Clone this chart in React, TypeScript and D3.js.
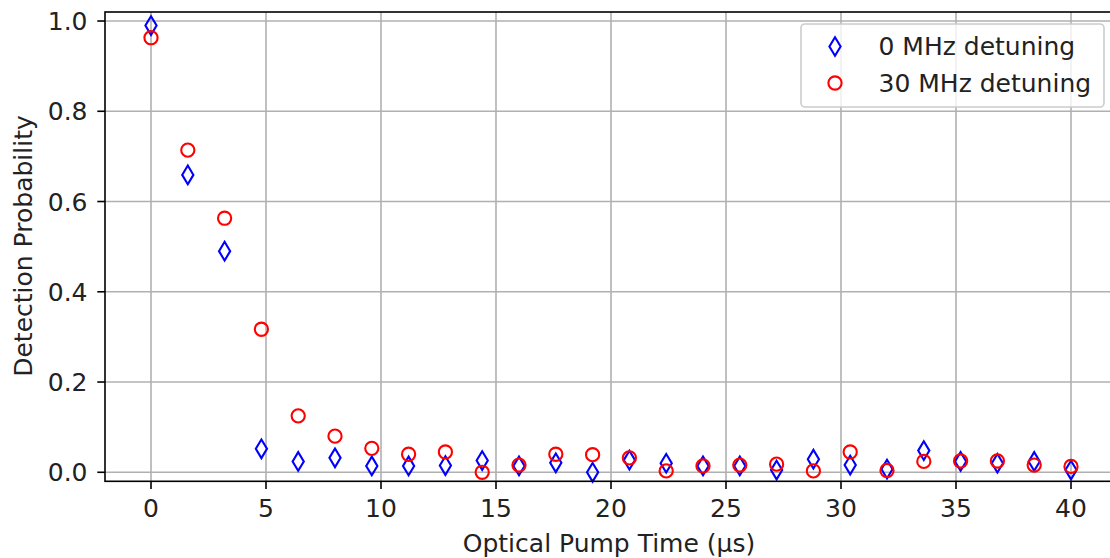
import React, { useEffect, useRef } from "react";
import * as d3 from "d3";

const pumpTimes = [0, 1.6, 3.2, 4.8, 6.4, 8.0, 9.6, 11.2, 12.8, 14.4, 16.0, 17.6, 19.2, 20.8, 22.4, 24.0, 25.6, 27.2, 28.8, 30.4, 32.0, 33.6, 35.2, 36.8, 38.4, 40.0];
const detuning0 = [0.99, 0.659, 0.49, 0.052, 0.024, 0.032, 0.014, 0.014, 0.015, 0.026, 0.014, 0.021, 0.0, 0.027, 0.02, 0.014, 0.014, 0.005, 0.029, 0.016, 0.007, 0.048, 0.024, 0.02, 0.024, 0.005];
const detuning30 = [0.963, 0.714, 0.563, 0.317, 0.125, 0.08, 0.053, 0.04, 0.045, 0.0, 0.016, 0.04, 0.039, 0.032, 0.003, 0.014, 0.016, 0.018, 0.003, 0.045, 0.004, 0.024, 0.025, 0.025, 0.016, 0.013];
const xTicks = [0, 5, 10, 15, 20, 25, 30, 35, 40];
const yTicks = [0, 0.2, 0.4, 0.6, 0.8, 1.0];
const seriesNames = ["0 MHz detuning", "30 MHz detuning"];

const FONT = "DejaVu Sans, sans-serif";
const FS = 25;

const App = () => {
  const ref = useRef(null);

  useEffect(() => {
    const width = 1110;
    const height = 558;
    const left = 105, top = 12, bottom = 481.3;
    const svg = d3.select(ref.current).attr("width", width).attr("height", height);
    svg.selectAll("*").remove();

    const x = d3.scaleLinear().domain([-2, 42]).range([left, left + 44 * 23]);
    const y = d3.scaleLinear().domain([-0.02, 1.02]).range([bottom, top]);
    const right = x(42);

    // grid
    const grid = svg.append("g").attr("stroke", "#b0b0b0").attr("stroke-width", 1.6);
    xTicks.forEach(t => grid.append("line").attr("x1", x(t)).attr("x2", x(t)).attr("y1", top).attr("y2", bottom));
    yTicks.forEach(t => grid.append("line").attr("x1", left).attr("x2", right).attr("y1", y(t)).attr("y2", y(t)));

    // markers
    const diamond = "M0,-9.33L5.6,0L0,9.33L-5.6,0Z";
    svg.append("g").selectAll("path")
      .data(pumpTimes.map((t, i) => [t, detuning0[i]]))
      .enter().append("path")
      .attr("d", diamond)
      .attr("transform", d => `translate(${x(d[0])},${y(d[1])})`)
      .attr("fill", "none").attr("stroke", "#0000ff").attr("stroke-width", 2.1);

    svg.append("g").selectAll("circle")
      .data(pumpTimes.map((t, i) => [t, detuning30[i]]))
      .enter().append("circle")
      .attr("cx", d => x(d[0])).attr("cy", d => y(d[1])).attr("r", 6.6)
      .attr("fill", "none").attr("stroke", "#ff0000").attr("stroke-width", 2.1);

    // spines
    svg.append("rect")
      .attr("x", left).attr("y", top).attr("width", right - left).attr("height", bottom - top)
      .attr("fill", "none").attr("stroke", "black").attr("stroke-width", 1.6);

    // ticks
    const xt = svg.append("g");
    xTicks.forEach(t => {
      xt.append("line").attr("x1", x(t)).attr("x2", x(t)).attr("y1", bottom).attr("y2", bottom + 7.7)
        .attr("stroke", "black").attr("stroke-width", 1.6);
      xt.append("text").attr("x", x(t)).attr("y", 517).attr("text-anchor", "middle")
        .attr("font-family", FONT).attr("font-size", FS).attr("fill", "#222").text(d3.format("d")(t));
    });
    const yt = svg.append("g");
    yTicks.forEach(t => {
      yt.append("line").attr("x1", left - 7.7).attr("x2", left).attr("y1", y(t)).attr("y2", y(t))
        .attr("stroke", "black").attr("stroke-width", 1.6);
      yt.append("text").attr("x", 87.5).attr("y", y(t) + 9).attr("text-anchor", "end")
        .attr("font-family", FONT).attr("font-size", FS).attr("fill", "#222").text(d3.format(".1f")(t));
    });

    // axis labels
    svg.append("text").attr("x", 609).attr("y", 552).attr("text-anchor", "middle")
      .attr("font-family", FONT).attr("font-size", FS).attr("fill", "#222").text("Optical Pump Time (µs)");
    svg.append("text").attr("transform", `translate(32,246) rotate(-90)`)
      .attr("text-anchor", "middle")
      .attr("font-family", FONT).attr("font-size", FS).attr("fill", "#222").text("Detection Probability");

    // legend
    const lg = svg.append("g");
    lg.append("rect").attr("x", 801).attr("y", 24).attr("width", 303).attr("height", 83).attr("rx", 4)
      .attr("fill", "white").attr("fill-opacity", 0.8).attr("stroke", "#cccccc").attr("stroke-width", 1.6);
    lg.append("path").attr("d", diamond).attr("transform", "translate(835,46.5)")
      .attr("fill", "none").attr("stroke", "#0000ff").attr("stroke-width", 2.1);
    lg.append("circle").attr("cx", 835).attr("cy", 83).attr("r", 6.6)
      .attr("fill", "none").attr("stroke", "#ff0000").attr("stroke-width", 2.1);
    [55, 92].forEach((by, i) => {
      lg.append("text").attr("x", 878.5).attr("y", by).attr("font-family", FONT).attr("font-size", FS)
        .attr("fill", "#222").text(seriesNames[i]);
    });
  }, []);

  return <svg ref={ref} style={{ position: "absolute", left: 0, top: 0 }}></svg>;
};

export default App;
